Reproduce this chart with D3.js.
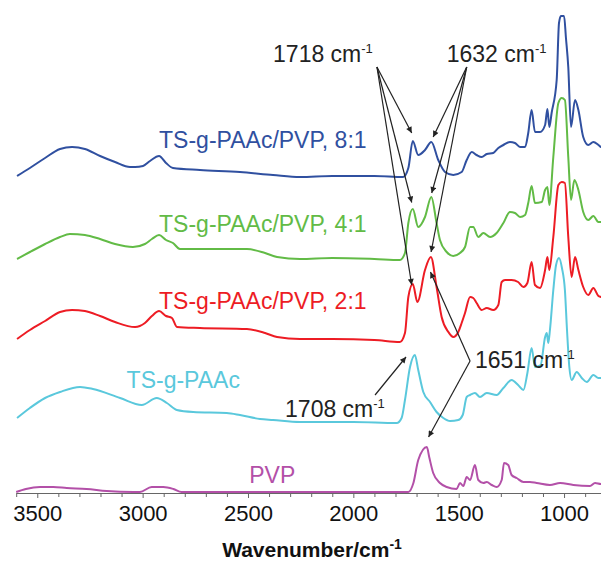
<!DOCTYPE html>
<html>
<head>
<meta charset="utf-8">
<script src="https://cdn.jsdelivr.net/npm/d3@7"></script>
<style>
body{margin:0;background:#fff;}
svg{display:block;font-family:"Liberation Sans",Arial,sans-serif;}
</style>
</head>
<body>
<div class="canvas"></div>
<script>
// spectra: [wavenumber cm-1, absorbance (a.u., already stacked)]
const ratio81=[[3596,3.17],[3535,3.25],[3463,3.35],[3392,3.44],[3335,3.46],[3274,3.44],[3202,3.37],[3131,3.31],[3060,3.26],[3036,3.26],[2998,3.27],[2965,3.32],[2922,3.37],[2889,3.30],[2856,3.25],[2728,3.23],[2538,3.21],[2381,3.18],[2253,3.16],[2100,3.17],[1900,3.17],[1764,3.16],[1739,3.25],[1718,3.52],[1692,3.38],[1660,3.43],[1630,3.51],[1597,3.33],[1565,3.21],[1526,3.18],[1486,3.21],[1462,3.33],[1438,3.41],[1415,3.38],[1391,3.36],[1367,3.39],[1336,3.40],[1312,3.45],[1288,3.48],[1257,3.51],[1233,3.50],[1209,3.46],[1185,3.46],[1170,3.60],[1154,3.83],[1138,3.61],[1114,3.61],[1090,3.68],[1079,3.84],[1070,3.66],[1059,3.80],[1035,4.13],[1024,4.70],[1015,4.77],[1000,4.77],[991,4.55],[980,4.26],[967,3.66],[948,3.93],[932,3.83],[909,3.56],[885,3.48],[861,3.51],[837,3.48],[825,3.46],[800,3.45]];
const ratio41=[[3596,2.34],[3535,2.41],[3463,2.49],[3392,2.56],[3345,2.59],[3274,2.58],[3202,2.54],[3131,2.49],[3046,2.46],[2989,2.49],[2956,2.54],[2922,2.58],[2889,2.53],[2856,2.50],[2823,2.44],[2728,2.44],[2505,2.44],[2419,2.40],[2362,2.36],[2253,2.34],[2100,2.35],[1900,2.34],[1779,2.33],[1755,2.40],[1739,2.70],[1718,2.84],[1692,2.66],[1660,2.76],[1630,2.96],[1605,2.70],[1589,2.53],[1557,2.41],[1526,2.37],[1494,2.40],[1470,2.46],[1446,2.66],[1431,2.66],[1407,2.56],[1383,2.60],[1351,2.56],[1320,2.60],[1288,2.70],[1257,2.81],[1233,2.80],[1209,2.76],[1185,2.78],[1170,2.90],[1154,3.07],[1138,2.90],[1106,2.91],[1090,3.03],[1079,3.06],[1070,2.88],[1051,3.36],[1027,3.90],[1011,3.95],[996,3.93],[980,3.36],[967,2.93],[951,3.13],[932,3.03],[909,2.81],[885,2.73],[861,2.77],[837,2.71],[825,2.71],[800,2.70]];
const ratio21=[[3596,1.54],[3535,1.63],[3463,1.72],[3392,1.81],[3335,1.83],[3274,1.82],[3202,1.77],[3131,1.71],[3036,1.66],[2989,1.70],[2956,1.77],[2922,1.82],[2889,1.77],[2861,1.75],[2837,1.66],[2728,1.65],[2505,1.64],[2419,1.60],[2362,1.56],[2253,1.54],[2100,1.54],[1900,1.53],[1779,1.51],[1755,1.60],[1739,1.96],[1718,2.09],[1696,1.91],[1660,2.23],[1632,2.36],[1605,2.06],[1581,1.76],[1549,1.61],[1526,1.56],[1502,1.61],[1486,1.70],[1470,1.80],[1446,1.96],[1431,1.95],[1415,1.90],[1391,1.83],[1367,1.85],[1336,1.83],[1312,1.88],[1296,2.11],[1280,2.13],[1249,2.13],[1218,2.11],[1193,2.06],[1174,2.10],[1154,2.31],[1138,2.08],[1114,2.05],[1090,2.23],[1079,2.36],[1070,2.23],[1051,2.56],[1027,3.08],[1011,3.11],[996,3.10],[980,2.56],[964,2.16],[948,2.36],[932,2.23],[909,2.06],[885,1.98],[861,2.05],[837,1.97],[825,1.96],[800,1.95]];
const tsPAAc=[[3596,0.75],[3535,0.85],[3463,0.95],[3392,1.01],[3297,1.06],[3236,1.04],[3107,0.95],[3004,0.88],[2933,0.95],[2885,0.90],[2838,0.83],[2760,0.81],[2601,0.80],[2538,0.78],[2443,0.74],[2381,0.73],[2253,0.71],[2000,0.71],[1794,0.70],[1771,0.75],[1755,0.93],[1731,1.26],[1708,1.38],[1692,1.23],[1668,1.01],[1636,0.91],[1605,0.81],[1573,0.75],[1541,0.72],[1502,0.73],[1481,0.78],[1462,0.96],[1446,0.98],[1423,1.00],[1399,0.96],[1367,1.00],[1320,0.98],[1288,1.05],[1249,1.13],[1218,1.08],[1193,1.03],[1174,1.20],[1154,1.45],[1138,1.26],[1111,1.28],[1090,1.56],[1082,1.60],[1075,1.50],[1067,1.63],[1051,2.03],[1038,2.28],[1024,2.35],[1010,2.25],[996,2.03],[986,1.63],[975,1.26],[964,1.13],[940,1.21],[916,1.15],[892,1.11],[861,1.18],[837,1.15],[825,1.15],[800,1.15]];
const pvp=[[3600,0.01],[3554,0.04],[3487,0.06],[3424,0.06],[3360,0.05],[3266,0.04],[3171,0.02],[3044,0.01],[3013,0.01],[2957,0.06],[2902,0.06],[2854,0.04],[2815,0.01],[2760,0.01],[2000,0.01],[1739,0.01],[1715,0.10],[1692,0.33],[1651,0.46],[1640,0.36],[1621,0.20],[1589,0.10],[1557,0.06],[1510,0.04],[1494,0.10],[1478,0.07],[1462,0.16],[1446,0.13],[1423,0.28],[1407,0.13],[1383,0.10],[1367,0.11],[1343,0.08],[1320,0.06],[1296,0.13],[1285,0.30],[1265,0.28],[1249,0.18],[1225,0.15],[1193,0.11],[1162,0.11],[1130,0.10],[1067,0.08],[1019,0.10],[956,0.08],[877,0.07],[853,0.10],[825,0.09],[800,0.09]];

const seriesNames=['TS-g-PAAc/PVP, 8:1','TS-g-PAAc/PVP, 4:1','TS-g-PAAc/PVP, 2:1','TS-g-PAAc','PVP'];
const xTicks=d3.range(3600,799,-100);
const tickLabels=[3500,3000,2500,2000,1500,1000];

const svg=d3.select('.canvas')
      .append('svg')
        .attr('width',601)
        .attr('height',563);

//scales - x runs backwards like an IR spectrum
const x=d3.scaleLinear().domain([3600,800]).range([16.2,606.2]);
const y=d3.scaleLinear().domain([0,4.8]).range([493,13]);

//axis
const xAxis=d3.axisBottom(x)
      .tickValues(xTicks)
      .tickSize(4)
      .tickSizeOuter(0)
      .tickPadding(8)
      .tickFormat(d=>tickLabels.includes(d)?d:'');

const xAxisGroup=svg.append('g')
      .attr('transform',`translate(0,${y(0)})`)
      .call(xAxis)
      .attr('font-size',22)
      .attr('font-family',null);
xAxisGroup.select('.domain').attr('stroke','#666');
xAxisGroup.selectAll('.tick line')
      .attr('stroke','#666')
      .attr('y2',d=>tickLabels.includes(d)?5:4);
xAxisGroup.selectAll('text').attr('fill','#111');

//axis title
const title=svg.append('text')
      .attr('x',312)
      .attr('y',557)
      .attr('text-anchor','middle')
      .attr('font-weight','bold')
      .attr('font-size',21)
      .attr('fill','#111')
      .text('Wavenumber/cm');
title.append('tspan').attr('font-size',14).attr('dy',-8).text('-1');

//spectra
const colors=['#3050a0','#62bb46','#ed1c24','#5ac8dc','#b350a8'];
const spectra=[ratio81,ratio41,ratio21,tsPAAc,pvp];
const line=d3.line()
      .x(d=>x(d[0]))
      .y(d=>y(d[1]))
      .curve(d3.curveMonotoneX);

svg.selectAll('path.spec')
      .data(spectra)
      .enter()
      .append('path')
      .attr('class','spec')
      .attr('d',line)
      .attr('fill','none')
      .attr('stroke',(d,i)=>colors[i])
      .attr('stroke-width',2)
      .attr('stroke-linejoin','round');

//series labels, anchored in data units
const labelSpots=[[2922,3.45],[2922,2.61],[2922,1.84],[3076,1.047],[2494,0.097]];
svg.selectAll('text.lab')
      .data(seriesNames)
      .enter()
      .append('text')
      .attr('class','lab')
      .attr('x',(d,i)=>x(labelSpots[i][0]))
      .attr('y',(d,i)=>y(labelSpots[i][1]))
      .attr('font-size',23)
      .attr('fill',(d,i)=>colors[i])
      .text(d=>d);

//arrow heads
svg.append('defs').append('marker')
      .attr('id','arr')
      .attr('viewBox','0 0 10 10')
      .attr('refX',10).attr('refY',5)
      .attr('markerUnits','userSpaceOnUse')
      .attr('markerWidth',8).attr('markerHeight',6)
      .attr('orient','auto')
      .append('path').attr('d','M0,0L10,5L0,10z').attr('fill','#222');

const peakNotes=[
  {text:'1718 cm',at:[2381,4.313],from:[1888,4.26],to:[[1723,3.60],[1723,2.905],[1723,2.08]]},
  {text:'1632 cm',at:[1557,4.313],from:[1462,4.26],to:[[1621,3.56],[1628,3.00],[1631,2.41]]},
  {text:'1708 cm',at:[2324,0.763],from:[1897,0.98],to:[[1750,1.36]]},
  {text:'1651 cm',at:[1423,1.247],from:[1446,1.32],to:[[1634,2.21],[1643,0.56]]}
];

peakNotes.forEach(n=>{
  const t=svg.append('text')
        .attr('x',x(n.at[0]))
        .attr('y',y(n.at[1]))
        .attr('font-size',23)
        .attr('fill','#222')
        .text(n.text);
  t.append('tspan').attr('font-size',13).attr('dy',-9).text('-1');
  n.to.forEach(p=>{
    svg.append('line')
        .attr('x1',x(n.from[0])).attr('y1',y(n.from[1]))
        .attr('x2',x(p[0])).attr('y2',y(p[1]))
        .attr('stroke','#222')
        .attr('stroke-width',1.2)
        .attr('marker-end','url(#arr)');
  });
});
</script>
</body>
</html>
